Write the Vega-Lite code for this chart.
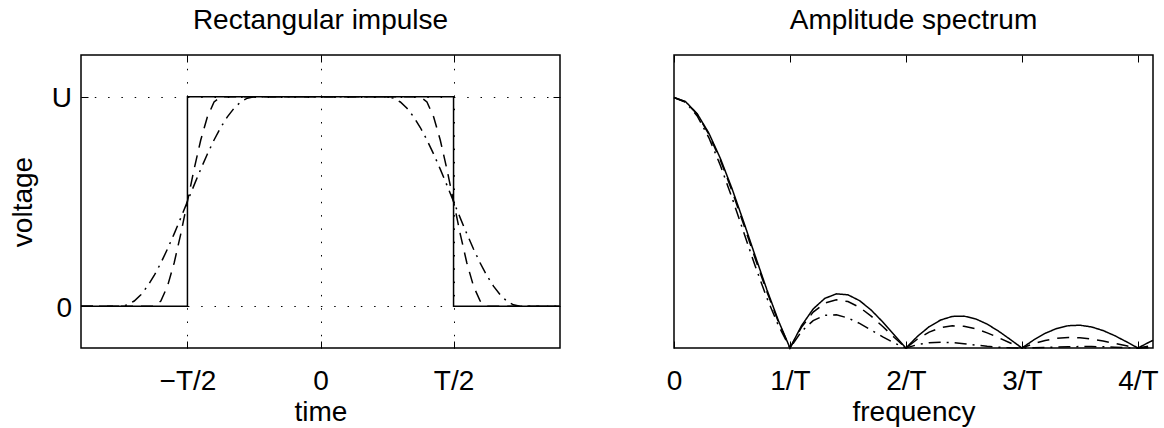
{
  "$schema": "https://vega.github.io/schema/vega-lite/v6.json",
  "background": "white",
  "padding": {"left": 8, "top": 6, "right": 5, "bottom": 0},
  "config": {
    "font": "Liberation Sans",
    "view": {"stroke": "black", "strokeWidth": 1.5},
    "axis": {
      "domain": false,
      "labelFont": "Liberation Sans",
      "labelFontSize": 28,
      "labelColor": "black",
      "titleFont": "Liberation Sans",
      "titleFontSize": 28,
      "titleFontWeight": "normal",
      "titleColor": "black",
      "tickColor": "black",
      "tickWidth": 1,
      "tickSize": -7,
      "grid": false,
      "labelFlush": false,
      "labelOverlap": false,
      "gridColor": "black",
      "gridDash": [1.5, 11.8],
      "gridWidth": 1,
      "gridOpacity": 1
    },
    "title": {"font": "Liberation Sans", "fontSize": 28, "fontWeight": "normal", "color": "black", "offset": 19.5}
  },
  "datasets": {
    "pulse": [
      {"s": "solid", "i": 0, "t": -0.9, "v": 0},
      {"s": "solid", "i": 1, "t": -0.5, "v": 0},
      {"s": "solid", "i": 2, "t": -0.5, "v": 1},
      {"s": "solid", "i": 3, "t": 0.5, "v": 1},
      {"s": "solid", "i": 4, "t": 0.5, "v": 0},
      {"s": "solid", "i": 5, "t": 0.9, "v": 0},
      {"s": "dashed", "i": 0, "t": -0.9, "v": 0},
      {"s": "dashed", "i": 1, "t": -0.625, "v": 0},
      {"s": "dashed", "i": 2, "t": -0.6, "v": 0.02447},
      {"s": "dashed", "i": 3, "t": -0.575, "v": 0.09549},
      {"s": "dashed", "i": 4, "t": -0.55, "v": 0.20611},
      {"s": "dashed", "i": 5, "t": -0.525, "v": 0.34549},
      {"s": "dashed", "i": 6, "t": -0.5, "v": 0.5},
      {"s": "dashed", "i": 7, "t": -0.475, "v": 0.65451},
      {"s": "dashed", "i": 8, "t": -0.45, "v": 0.79389},
      {"s": "dashed", "i": 9, "t": -0.425, "v": 0.90451},
      {"s": "dashed", "i": 10, "t": -0.4, "v": 0.97553},
      {"s": "dashed", "i": 11, "t": -0.375, "v": 1},
      {"s": "dashed", "i": 12, "t": 0.375, "v": 1},
      {"s": "dashed", "i": 13, "t": 0.4, "v": 0.97553},
      {"s": "dashed", "i": 14, "t": 0.425, "v": 0.90451},
      {"s": "dashed", "i": 15, "t": 0.45, "v": 0.79389},
      {"s": "dashed", "i": 16, "t": 0.475, "v": 0.65451},
      {"s": "dashed", "i": 17, "t": 0.5, "v": 0.5},
      {"s": "dashed", "i": 18, "t": 0.525, "v": 0.34549},
      {"s": "dashed", "i": 19, "t": 0.55, "v": 0.20611},
      {"s": "dashed", "i": 20, "t": 0.575, "v": 0.09549},
      {"s": "dashed", "i": 21, "t": 0.6, "v": 0.02447},
      {"s": "dashed", "i": 22, "t": 0.625, "v": 0},
      {"s": "dashed", "i": 23, "t": 0.9, "v": 0},
      {"s": "dashdot", "i": 0, "t": -0.9, "v": 0},
      {"s": "dashdot", "i": 1, "t": -0.75, "v": 0},
      {"s": "dashdot", "i": 2, "t": -0.725, "v": 0.00616},
      {"s": "dashdot", "i": 3, "t": -0.7, "v": 0.02447},
      {"s": "dashdot", "i": 4, "t": -0.675, "v": 0.0545},
      {"s": "dashdot", "i": 5, "t": -0.65, "v": 0.09549},
      {"s": "dashdot", "i": 6, "t": -0.625, "v": 0.14645},
      {"s": "dashdot", "i": 7, "t": -0.6, "v": 0.20611},
      {"s": "dashdot", "i": 8, "t": -0.575, "v": 0.273},
      {"s": "dashdot", "i": 9, "t": -0.55, "v": 0.34549},
      {"s": "dashdot", "i": 10, "t": -0.525, "v": 0.42178},
      {"s": "dashdot", "i": 11, "t": -0.5, "v": 0.5},
      {"s": "dashdot", "i": 12, "t": -0.475, "v": 0.57822},
      {"s": "dashdot", "i": 13, "t": -0.45, "v": 0.65451},
      {"s": "dashdot", "i": 14, "t": -0.425, "v": 0.727},
      {"s": "dashdot", "i": 15, "t": -0.4, "v": 0.79389},
      {"s": "dashdot", "i": 16, "t": -0.375, "v": 0.85355},
      {"s": "dashdot", "i": 17, "t": -0.35, "v": 0.90451},
      {"s": "dashdot", "i": 18, "t": -0.325, "v": 0.9455},
      {"s": "dashdot", "i": 19, "t": -0.3, "v": 0.97553},
      {"s": "dashdot", "i": 20, "t": -0.275, "v": 0.99384},
      {"s": "dashdot", "i": 21, "t": -0.25, "v": 1},
      {"s": "dashdot", "i": 22, "t": 0.25, "v": 1},
      {"s": "dashdot", "i": 23, "t": 0.275, "v": 0.99384},
      {"s": "dashdot", "i": 24, "t": 0.3, "v": 0.97553},
      {"s": "dashdot", "i": 25, "t": 0.325, "v": 0.9455},
      {"s": "dashdot", "i": 26, "t": 0.35, "v": 0.90451},
      {"s": "dashdot", "i": 27, "t": 0.375, "v": 0.85355},
      {"s": "dashdot", "i": 28, "t": 0.4, "v": 0.79389},
      {"s": "dashdot", "i": 29, "t": 0.425, "v": 0.727},
      {"s": "dashdot", "i": 30, "t": 0.45, "v": 0.65451},
      {"s": "dashdot", "i": 31, "t": 0.475, "v": 0.57822},
      {"s": "dashdot", "i": 32, "t": 0.5, "v": 0.5},
      {"s": "dashdot", "i": 33, "t": 0.525, "v": 0.42178},
      {"s": "dashdot", "i": 34, "t": 0.55, "v": 0.34549},
      {"s": "dashdot", "i": 35, "t": 0.575, "v": 0.273},
      {"s": "dashdot", "i": 36, "t": 0.6, "v": 0.20611},
      {"s": "dashdot", "i": 37, "t": 0.625, "v": 0.14645},
      {"s": "dashdot", "i": 38, "t": 0.65, "v": 0.09549},
      {"s": "dashdot", "i": 39, "t": 0.675, "v": 0.0545},
      {"s": "dashdot", "i": 40, "t": 0.7, "v": 0.02447},
      {"s": "dashdot", "i": 41, "t": 0.725, "v": 0.00616},
      {"s": "dashdot", "i": 42, "t": 0.75, "v": 0},
      {"s": "dashdot", "i": 43, "t": 0.9, "v": 0}
    ],
    "spectrum": [
      {"f": 0, "solid": 1, "dashed": 1, "dashdot": 1},
      {"f": 0.1, "solid": 0.98363, "dashed": 0.98306, "dashdot": 0.98134},
      {"f": 0.2, "solid": 0.93549, "dashed": 0.93331, "dashdot": 0.92677},
      {"f": 0.3, "solid": 0.85839, "dashed": 0.85388, "dashdot": 0.84048},
      {"f": 0.4, "solid": 0.75683, "dashed": 0.74978, "dashdot": 0.72892},
      {"f": 0.5, "solid": 0.63662, "dashed": 0.62737, "dashdot": 0.60021},
      {"f": 0.6, "solid": 0.50455, "dashed": 0.49402, "dashdot": 0.46338},
      {"f": 0.7, "solid": 0.36788, "dashed": 0.35746, "dashdot": 0.32748},
      {"f": 0.8, "solid": 0.23387, "dashed": 0.22524, "dashdot": 0.20075},
      {"f": 0.9, "solid": 0.10929, "dashed": 0.10421, "dashdot": 0.08998},
      {"f": 1.0, "solid": 0, "dashed": 0, "dashdot": 0},
      {"f": 1.1, "solid": 0.08942, "dashed": 0.08326, "dashdot": 0.06661},
      {"f": 1.2, "solid": 0.15592, "dashed": 0.1432, "dashdot": 0.1095},
      {"f": 1.3, "solid": 0.19809, "dashed": 0.17922, "dashdot": 0.13033},
      {"f": 1.4, "solid": 0.21624, "dashed": 0.19249, "dashdot": 0.1324},
      {"f": 1.5, "solid": 0.21221, "dashed": 0.18562, "dashdot": 0.12005},
      {"f": 1.6, "solid": 0.18921, "dashed": 0.16241, "dashdot": 0.09812},
      {"f": 1.7, "solid": 0.15148, "dashed": 0.12743, "dashdot": 0.07141},
      {"f": 1.8, "solid": 0.10394, "dashed": 0.08558, "dashdot": 0.04413},
      {"f": 1.9, "solid": 0.05177, "dashed": 0.04166, "dashdot": 0.01959},
      {"f": 2.0, "solid": 0, "dashed": 0, "dashdot": 0},
      {"f": 2.1, "solid": 0.04684, "dashed": 0.03585, "dashdot": 0.01357},
      {"f": 2.2, "solid": 0.08504, "dashed": 0.06335, "dashdot": 0.02106},
      {"f": 2.3, "solid": 0.11196, "dashed": 0.08104, "dashdot": 0.02325},
      {"f": 2.4, "solid": 0.12614, "dashed": 0.08859, "dashdot": 0.02144},
      {"f": 2.5, "solid": 0.12732, "dashed": 0.08662, "dashdot": 0.01715},
      {"f": 2.6, "solid": 0.11644, "dashed": 0.07661, "dashdot": 0.01188},
      {"f": 2.7, "solid": 0.09538, "dashed": 0.06059, "dashdot": 0.00688},
      {"f": 2.8, "solid": 0.06682, "dashed": 0.04091, "dashdot": 0.00302},
      {"f": 2.9, "solid": 0.03392, "dashed": 0.01998, "dashdot": 0.00072},
      {"f": 3.0, "solid": 0, "dashed": 0, "dashdot": 0},
      {"f": 3.1, "solid": 0.03173, "dashed": 0.0172, "dashdot": 0.00058},
      {"f": 3.2, "solid": 0.05847, "dashed": 0.03032, "dashdot": 0.00196},
      {"f": 3.3, "solid": 0.07804, "dashed": 0.03863, "dashdot": 0.00358},
      {"f": 3.4, "solid": 0.08904, "dashed": 0.04198, "dashdot": 0.00496},
      {"f": 3.5, "solid": 0.09095, "dashed": 0.04074, "dashdot": 0.00572},
      {"f": 3.6, "solid": 0.08409, "dashed": 0.0357, "dashdot": 0.00569},
      {"f": 3.7, "solid": 0.0696, "dashed": 0.02794, "dashdot": 0.00489},
      {"f": 3.8, "solid": 0.04924, "dashed": 0.01863, "dashdot": 0.00348},
      {"f": 3.9, "solid": 0.02522, "dashed": 0.00897, "dashdot": 0.00175},
      {"f": 4.0, "solid": 0, "dashed": 0, "dashdot": 0},
      {"f": 4.1, "solid": 0.02399, "dashed": 0.00747, "dashdot": 0.0015},
      {"f": 4.13, "solid": 0.03061, "dashed": 0.00933, "dashdot": 0.00187}
    ]
  },
  "spacing": 114,
  "bounds": "flush",
  "hconcat": [
    {
      "title": "Rectangular impulse",
      "width": 479,
      "height": 293,
      "data": {"name": "pulse"},
      "resolve": {"axis": {"x": "independent", "y": "independent"}},
      "layer": [
        {
          "mark": {"type": "line", "color": "black", "strokeWidth": 1.5},
          "encoding": {
            "x": {"field": "t", "type": "quantitative",
              "scale": {"domain": [-0.9, 0.9], "nice": false, "zero": false},
              "axis": {"orient": "bottom", "values": [-0.5, 0, 0.5], "grid": true, "title": "time", "labelPadding": 26, "titlePadding": 3,
                "labelExpr": "datum.value < -0.1 ? '\u2212T/2' : (datum.value > 0.1 ? 'T/2' : '0')"}},
            "y": {"field": "v", "type": "quantitative",
              "scale": {"domain": [-0.2, 1.2], "nice": false, "zero": false},
              "axis": {"orient": "left", "values": [0, 1], "grid": true, "title": "voltage", "labelPadding": 16.5, "labelOffset": 2, "titlePadding": 14,
                "labelExpr": "datum.value > 0.5 ? 'U' : '0'"}},
            "strokeDash": {"field": "s", "type": "nominal",
              "scale": {"domain": ["solid", "dashed", "dashdot"], "range": [[1, 0], [12, 8], [12, 6, 2, 6]]}, "legend": null},
            "order": {"field": "i", "type": "quantitative"}
          }
        },
        {
          "mark": {"type": "line", "color": "black", "strokeOpacity": 0},
          "encoding": {
            "x": {"field": "t", "type": "quantitative",
              "axis": {"orient": "top", "values": [-0.5, 0, 0.5], "labels": false, "title": null}},
            "y": {"field": "v", "type": "quantitative",
              "axis": {"orient": "right", "values": [0, 1], "labels": false, "title": null}},
            "detail": {"field": "s", "type": "nominal"},
            "order": {"field": "i", "type": "quantitative"}
          }
        }
      ]
    },
    {
      "title": "Amplitude spectrum",
      "width": 479,
      "height": 293,
      "data": {"name": "spectrum"},
      "transform": [{"fold": ["solid", "dashed", "dashdot"], "as": ["s", "a"]}],
      "resolve": {"axis": {"x": "independent"}},
      "layer": [
        {
          "mark": {"type": "line", "color": "black", "strokeWidth": 1.5},
          "encoding": {
            "x": {"field": "f", "type": "quantitative",
              "scale": {"domain": [0, 4.13], "nice": false, "zero": false},
              "axis": {"orient": "bottom", "values": [0, 1, 2, 3, 4], "title": "frequency", "labelPadding": 26, "titlePadding": 3,
                "labelExpr": "datum.value == 0 ? '0' : datum.value + '/T'"}},
            "y": {"field": "a", "type": "quantitative",
              "scale": {"domain": [0, 1.17], "nice": false}, "axis": null},
            "strokeDash": {"field": "s", "type": "nominal",
              "scale": {"domain": ["solid", "dashed", "dashdot"], "range": [[1, 0], [12, 8], [12, 6, 2, 6]]}, "legend": null}
          }
        },
        {
          "mark": {"type": "line", "color": "black", "strokeOpacity": 0},
          "encoding": {
            "x": {"field": "f", "type": "quantitative",
              "axis": {"orient": "top", "values": [0, 1, 2, 3, 4], "labels": false, "title": null}},
            "y": {"field": "a", "type": "quantitative", "axis": null},
            "detail": {"field": "s", "type": "nominal"}
          }
        }
      ]
    }
  ]
}
